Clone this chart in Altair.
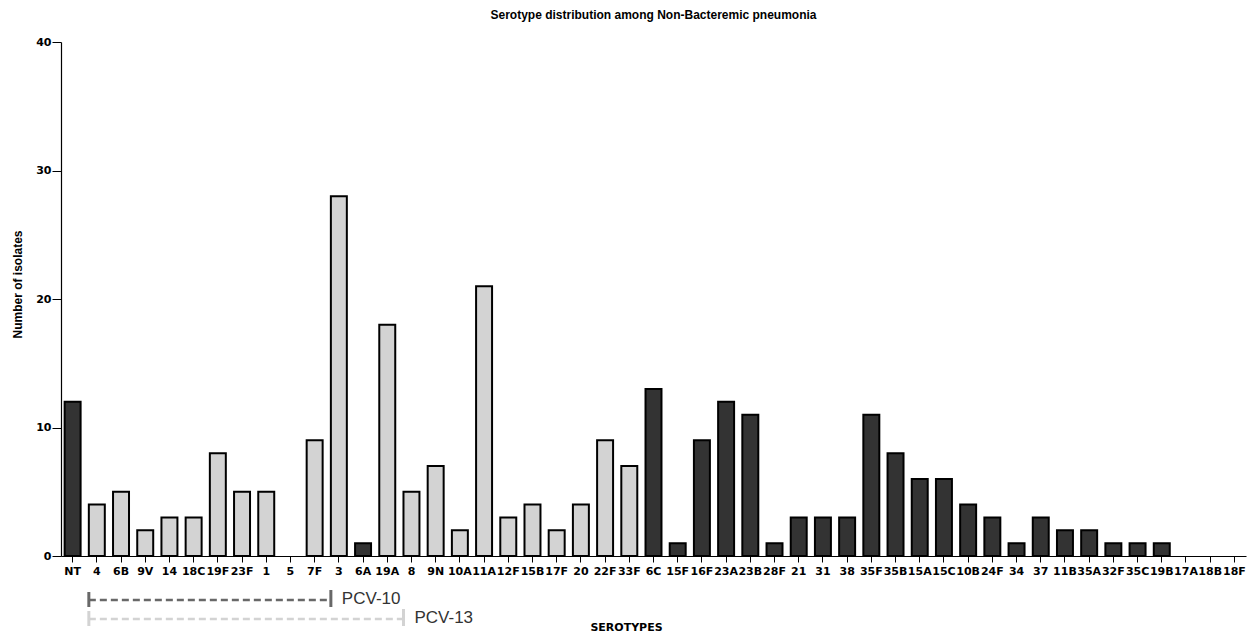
import altair as alt
import pandas as pd

serotypes = ["NT", "4", "6B", "9V", "14", "18C", "19F", "23F", "1", "5", "7F", "3", "6A",
             "19A", "8", "9N", "10A", "11A", "12F", "15B", "17F", "20", "22F", "33F", "6C",
             "15F", "16F", "23A", "23B", "28F", "21", "31", "38", "35F", "35B", "15A", "15C",
             "10B", "24F", "34", "37", "11B", "35A", "32F", "35C", "19B", "17A", "18B", "18F"]
counts = [12, 4, 5, 2, 3, 3, 8, 5, 5, 0, 9, 28, 1,
          18, 5, 7, 2, 21, 3, 4, 2, 4, 9, 7, 13,
          1, 9, 12, 11, 1, 3, 3, 3, 11, 8, 6, 6,
          4, 3, 1, 3, 2, 2, 1, 1, 1, 0, 0, 0]
ppv23 = ["4", "6B", "9V", "14", "18C", "19F", "23F", "1", "5", "7F", "3", "19A", "8", "9N",
         "10A", "11A", "12F", "15B", "17F", "20", "22F", "33F"]
groups = ["PPV23" if s in ppv23 else "Non-PPV23" for s in serotypes]

vaccine_names = ["PCV-10", "PCV-13"]
vaccine_first = ["4", "4"]
vaccine_after = ["3", "8"]

W, H = 1185, 514
FONT = "Arial, Liberation Sans, sans-serif"
WIDEFONT = "DejaVu Sans, sans-serif"

df = pd.DataFrame({"serotype": serotypes, "count": counts, "group": groups})
vac = pd.DataFrame({"name": vaccine_names, "first": vaccine_first, "after": vaccine_after})

xscale = alt.Scale(domain=serotypes, paddingInner=0.34, paddingOuter=0.15)

bars = alt.Chart(df).transform_filter("datum.count > 0").mark_bar(
    stroke="black", strokeWidth=2).encode(
    x=alt.X("serotype:N", sort=serotypes, scale=xscale,
            axis=alt.Axis(title="SEROTYPES", labelAngle=0, labelOverlap=False,
                          labelFontWeight="bold", labelFontSize=11, labelFont=WIDEFONT,
                          labelColor="black", labelPadding=3, tickSize=6,
                          tickColor="black", domainColor="black", domainWidth=1.2,
                          titleFontSize=11, titleFontWeight="bold", titleFont=WIDEFONT,
                          titleX=565, titleY=71, titleAlign="center",
                          titleBaseline="middle", titleColor="black")),
    y=alt.Y("count:Q", scale=alt.Scale(domain=[0, 40]),
            axis=alt.Axis(title="Number of isolates", values=[0, 10, 20, 30, 40],
                          grid=False, labelFontWeight="bold", labelFontSize=11,
                          labelFont=WIDEFONT, labelColor="black", tickSize=9,
                          labelPadding=1,
                          tickColor="black", domainColor="black", domainWidth=1.2,
                          titleFontSize=12, titleFontWeight="bold", titleFont=FONT,
                          titleColor="black", titleX=-44, titleY=242,
                          titleAlign="center", titleBaseline="middle")),
    color=alt.Color("group:N", scale=alt.Scale(domain=["PPV23", "Non-PPV23"],
                                               range=["#d3d3d3", "#333333"]),
                    legend=None),
)

def bracket(name, color, yline, textcolor):
    d = vac[vac["name"] == name]
    base = alt.Chart(d)
    line = base.mark_rule(color=color, strokeWidth=2.5, strokeDash=[7, 4]).encode(
        x=alt.X("first:N", sort=serotypes, scale=xscale, bandPosition=0),
        x2=alt.X2("after:N", bandPosition=0),
        y=alt.value(yline),
    )
    cap1 = base.mark_rule(color=color, strokeWidth=3).encode(
        x=alt.X("first:N", sort=serotypes, scale=xscale, bandPosition=0),
        y=alt.value(yline - 8), y2=alt.value(yline + 7),
    )
    cap2 = base.mark_rule(color=color, strokeWidth=3).encode(
        x=alt.X("after:N", sort=serotypes, scale=xscale, bandPosition=0),
        y=alt.value(yline - 10), y2=alt.value(yline + 7),
    )
    label = base.mark_text(align="left", baseline="middle", dx=11, fontSize=17,
                           font=FONT, color=textcolor).encode(
        x=alt.X("after:N", sort=serotypes, scale=xscale, bandPosition=0),
        y=alt.value(yline - 1),
        text="name:N",
    )
    return line + cap1 + cap2 + label

chart = alt.layer(
    bars,
    bracket("PCV-10", "#686868", 558, "#333333"),
    bracket("PCV-13", "#d3d3d3", 577, "#333333"),
).properties(
    width=W, height=H,
    title=alt.Title("Serotype distribution among Non-Bacteremic pneumonia",
                    fontSize=12, fontWeight="bold", font=FONT, color="black",
                    anchor="middle", offset=14),
    autosize=alt.AutoSizeParams(type="none"),
    padding={"left": 53, "top": 34, "right": 5, "bottom": 85},
).configure_view(stroke=None)

chart.save("out.html", embed_options={"renderer": "svg", "actions": False})
